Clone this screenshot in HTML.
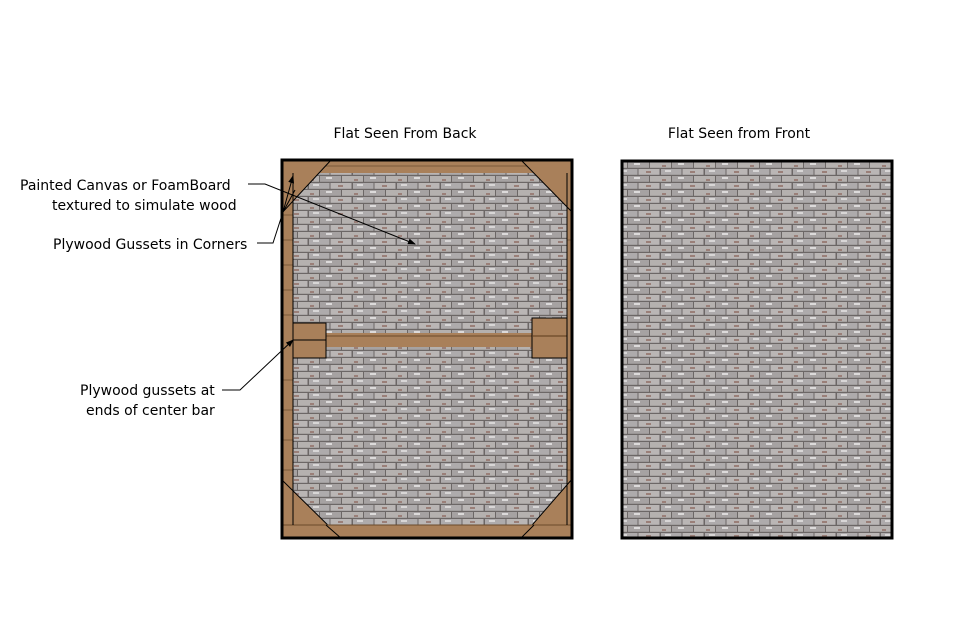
<!DOCTYPE html>
<html><head><meta charset="utf-8"><style>
body{margin:0;background:#fff}
svg{display:block}
text{font-family:"DejaVu Sans","Liberation Sans",sans-serif;font-size:14px;fill:#000}
</style></head><body>
<svg width="958" height="637" viewBox="0 0 958 637">
<defs>
<pattern id="brick" width="44" height="14" patternUnits="userSpaceOnUse">
<rect width="44" height="14" fill="#6c6766"/>
<rect x="1" y="1" width="20.5" height="5.8" fill="#aeabac"/>
<rect x="22.5" y="1" width="21" height="5.8" fill="#bab6b5"/>
<rect x="-10" y="8" width="21" height="5.8" fill="#b5b1af"/>
<rect x="12" y="8" width="21" height="5.8" fill="#a6a2a2"/>
<rect x="34" y="8" width="21" height="5.8" fill="#b5b1af"/>
<rect x="5" y="2" width="6" height="2" fill="#d8d6d6"/>
<rect x="30" y="3" width="5" height="2" fill="#9a7f78"/>
<rect x="18" y="9" width="6" height="2" fill="#dcdada"/>
<rect x="2" y="11" width="4" height="2" fill="#9a7f78"/>
</pattern>
<marker id="ar" markerWidth="8" markerHeight="8" refX="7" refY="4" orient="auto"><path d="M0,1 L8,4 L0,7z" fill="#000"/></marker>
</defs>
<text x="405" y="138" text-anchor="middle">Flat Seen From Back</text>
<text x="739" y="138" text-anchor="middle">Flat Seen from Front</text>

<rect x="281" y="159" width="292" height="380" fill="#a9805a"/>
<rect x="293" y="173" width="274" height="352" fill="url(#brick)"/>
<g stroke="#7a5a3a" stroke-width="1">
<line x1="281" y1="166" x2="573" y2="166"/>
<line x1="281" y1="530" x2="573" y2="530"/>
<line x1="283" y1="190" x2="293" y2="190"/><line x1="283" y1="215" x2="293" y2="215"/><line x1="283" y1="240" x2="293" y2="240"/><line x1="283" y1="265" x2="293" y2="265"/><line x1="283" y1="290" x2="293" y2="290"/><line x1="283" y1="315" x2="293" y2="315"/><line x1="283" y1="380" x2="293" y2="380"/><line x1="283" y1="410" x2="293" y2="410"/><line x1="283" y1="440" x2="293" y2="440"/><line x1="283" y1="470" x2="293" y2="470"/><line x1="283" y1="500" x2="293" y2="500"/>
<line x1="567" y1="190" x2="573" y2="190"/><line x1="567" y1="240" x2="573" y2="240"/><line x1="567" y1="290" x2="573" y2="290"/><line x1="567" y1="410" x2="573" y2="410"/><line x1="567" y1="470" x2="573" y2="470"/>
</g>
<g fill="#a9805a" stroke="#000" stroke-width="1">
<path d="M281,159 L332,159 L281,214z"/>
<path d="M573,159 L520,159 L573,213z"/>
<path d="M281,479 L342,539 L281,539z"/>
<path d="M573,478 L520,539 L573,539z"/>
</g>
<rect x="281" y="525" width="292" height="14" fill="#a9805a"/>
<line x1="281" y1="525" x2="573" y2="525" stroke="#6a4a2a"/>
<line x1="326" y1="525" x2="342" y2="539" stroke="#000"/>
<line x1="534" y1="525" x2="520" y2="539" stroke="#000"/>
<rect x="293" y="333" width="274" height="14" fill="#a9805a"/>
<line x1="293" y1="336" x2="567" y2="336" stroke="#6a4a2a"/>
<rect x="293" y="323" width="33" height="35" fill="#a9805a" stroke="#000"/>
<rect x="532" y="318" width="35" height="40" fill="#a9805a" stroke="#000"/>
<line x1="293" y1="340" x2="326" y2="340" stroke="#000"/>
<line x1="532" y1="336" x2="567" y2="336" stroke="#5a3a1a"/>
<line x1="293" y1="173" x2="293" y2="525" stroke="#000" stroke-width="1"/>
<line x1="567" y1="173" x2="567" y2="525" stroke="#000" stroke-width="1"/>
<rect x="282" y="160" width="290" height="378" fill="none" stroke="#000" stroke-width="3"/>

<rect x="622" y="161" width="270" height="377" fill="url(#brick)" stroke="#000" stroke-width="3"/>

<text x="20" y="190">Painted Canvas or FoamBoard</text>
<text x="52" y="210">textured to simulate wood</text>
<text x="53" y="249">Plywood Gussets in Corners</text>
<text x="80" y="395">Plywood gussets at</text>
<text x="86" y="415">ends of center bar</text>
<g stroke="#000" stroke-width="1" fill="none">
<polyline points="248,184 265,184 415,244" marker-end="url(#ar)"/>
<polyline points="257,243 273,243 283,212 293,176" marker-end="url(#ar)"/>
<line x1="283" y1="212" x2="295" y2="190"/>
<polyline points="222,390 240,390 293,340" marker-end="url(#ar)"/>
</g>
</svg>
</body></html>
